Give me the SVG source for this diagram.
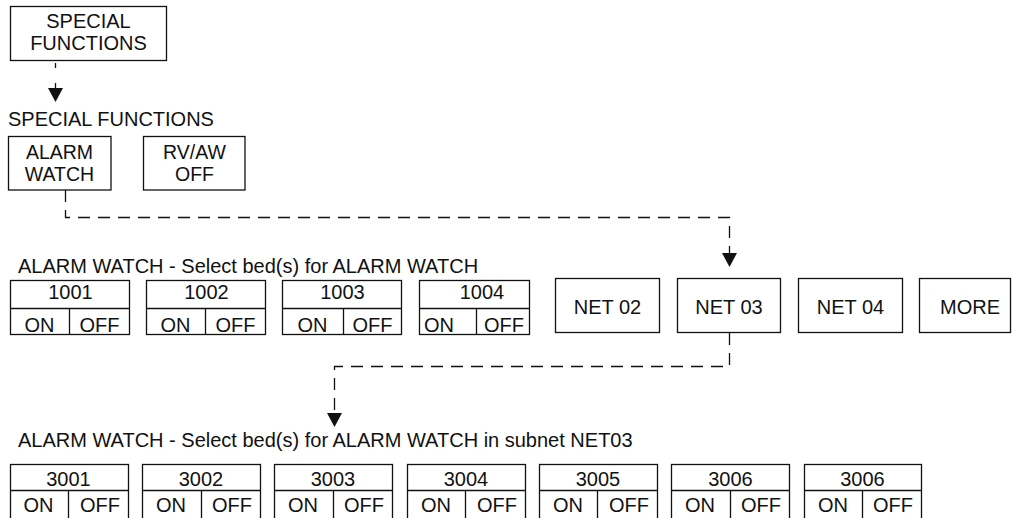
<svg xmlns="http://www.w3.org/2000/svg" width="1012" height="518" viewBox="0 0 1012 518">
  <style>
    text { font-family: "Liberation Sans", Arial, Helvetica, sans-serif; font-size: 20px; fill: #111; text-anchor: middle; }
    text.h { text-anchor: start; }
    text.two { font-size: 19.5px; }
    .box { fill: none; stroke: #111; stroke-width: 1.3; }
    .sep { stroke: #111; stroke-width: 1.3; }
    .con { fill: none; stroke: #111; stroke-width: 1.3; stroke-dasharray: 12 8; }
    .con.short { stroke-dasharray: 5 15; }
  </style>
  <defs>
    <marker id="arrow" viewBox="0 0 14 15" refX="0" refY="7.5" markerWidth="14" markerHeight="15" markerUnits="userSpaceOnUse" orient="auto">
      <path d="M0,0 L14,7.5 L0,15 Z" fill="#111"/>
    </marker>
  </defs>
  <rect width="1012" height="518" fill="#fff"/>

  <!-- connectors -->
  <g id="connectors">
    <path class="con short" d="M55.5 63 V88" marker-end="url(#arrow)"/>
    <path class="con" d="M65.5 190 V217.5 H729.5 V253" marker-end="url(#arrow)"/>
    <path class="con" d="M729.5 333 V366.5 H334.5 V413" marker-end="url(#arrow)"/>
  </g>

  <!-- top level menu key -->
  <g id="special-functions-key">
    <rect class="box" x="10.5" y="6.5" width="156" height="54"/>
    <text x="88.5" y="28">SPECIAL</text>
    <text x="88.5" y="50">FUNCTIONS</text>
  </g>

  <!-- special functions screen -->
  <g id="special-functions-title">
    <text class="h" x="8" y="126">SPECIAL FUNCTIONS</text>
  </g>
  <g id="alarm-watch-key">
    <rect class="box" x="8.5" y="136.5" width="102.5" height="53.5"/>
    <text class="two" x="59.5" y="158.5">ALARM</text>
    <text class="two" x="59.5" y="180.5">WATCH</text>
  </g>
  <g id="rvaw-off-key">
    <rect class="box" x="143.5" y="136.5" width="101.5" height="53.5"/>
    <text class="two" x="194.5" y="158.5">RV/AW</text>
    <text class="two" x="194.5" y="180.5">OFF</text>
  </g>

  <!-- bed selection, network 01 -->
  <g id="net01-title">
    <text class="h" x="18" y="272.5">ALARM WATCH - Select bed(s) for ALARM WATCH</text>
  </g>
  <g id="bed-1001">
    <rect class="box" x="10.5" y="280.5" width="119" height="54"/>
    <line class="sep" x1="10.5" y1="308.5" x2="129.5" y2="308.5"/>
    <line class="sep" x1="69.5" y1="308.5" x2="69.5" y2="334.5"/>
    <text x="70.5" y="299">1001</text>
    <text x="39.5" y="331.5">ON</text>
    <text x="99.5" y="331.5">OFF</text>
  </g>
  <g id="bed-1002">
    <rect class="box" x="146.5" y="280.5" width="119" height="54"/>
    <line class="sep" x1="146.5" y1="308.5" x2="265.5" y2="308.5"/>
    <line class="sep" x1="205.5" y1="308.5" x2="205.5" y2="334.5"/>
    <text x="206.5" y="299">1002</text>
    <text x="175.5" y="331.5">ON</text>
    <text x="235.5" y="331.5">OFF</text>
  </g>
  <g id="bed-1003">
    <rect class="box" x="282.5" y="280.5" width="119" height="54"/>
    <line class="sep" x1="282.5" y1="308.5" x2="401.5" y2="308.5"/>
    <line class="sep" x1="343.5" y1="308.5" x2="343.5" y2="334.5"/>
    <text x="342.5" y="299">1003</text>
    <text x="312.5" y="331.5">ON</text>
    <text x="372.5" y="331.5">OFF</text>
  </g>
  <g id="bed-1004">
    <rect class="box" x="419.5" y="280.5" width="110" height="54"/>
    <line class="sep" x1="419.5" y1="308.5" x2="529.5" y2="308.5"/>
    <line class="sep" x1="476.5" y1="308.5" x2="476.5" y2="334.5"/>
    <text x="482" y="299">1004</text>
    <text x="439" y="331.5">ON</text>
    <text x="504" y="331.5">OFF</text>
  </g>
  <g id="net02-key">
    <rect class="box" x="555.5" y="278.5" width="104" height="54"/>
    <text x="607.5" y="314">NET 02</text>
  </g>
  <g id="net03-key">
    <rect class="box" x="677.5" y="278.5" width="103" height="54"/>
    <text x="729" y="314">NET 03</text>
  </g>
  <g id="net04-key">
    <rect class="box" x="798.5" y="278.5" width="104" height="54"/>
    <text x="850.5" y="314">NET 04</text>
  </g>
  <g id="more-key">
    <rect class="box" x="919.5" y="278.5" width="91" height="54"/>
    <text x="970" y="314">MORE</text>
  </g>

  <!-- bed selection, subnet NET03 -->
  <g id="net03-title">
    <text class="h" x="18" y="446.5">ALARM WATCH - Select bed(s) for ALARM WATCH in subnet NET03</text>
  </g>
  <g id="bed-3001">
    <rect class="box" x="10.5" y="464.5" width="118" height="70"/>
    <line class="sep" x1="10.5" y1="490.5" x2="128.5" y2="490.5"/>
    <line class="sep" x1="68.5" y1="490.5" x2="68.5" y2="534.5"/>
    <text x="68.5" y="486">3001</text>
    <text x="38.5" y="511.5">ON</text>
    <text x="100" y="511.5">OFF</text>
  </g>
  <g id="bed-3002">
    <rect class="box" x="142.5" y="464.5" width="118" height="70"/>
    <line class="sep" x1="142.5" y1="490.5" x2="260.5" y2="490.5"/>
    <line class="sep" x1="201.5" y1="490.5" x2="201.5" y2="534.5"/>
    <text x="201" y="486">3002</text>
    <text x="171" y="511.5">ON</text>
    <text x="232" y="511.5">OFF</text>
  </g>
  <g id="bed-3003">
    <rect class="box" x="274.5" y="464.5" width="118" height="70"/>
    <line class="sep" x1="274.5" y1="490.5" x2="392.5" y2="490.5"/>
    <line class="sep" x1="333.5" y1="490.5" x2="333.5" y2="534.5"/>
    <text x="333" y="486">3003</text>
    <text x="303" y="511.5">ON</text>
    <text x="364" y="511.5">OFF</text>
  </g>
  <g id="bed-3004">
    <rect class="box" x="407.5" y="464.5" width="118" height="70"/>
    <line class="sep" x1="407.5" y1="490.5" x2="525.5" y2="490.5"/>
    <line class="sep" x1="465.5" y1="490.5" x2="465.5" y2="534.5"/>
    <text x="466" y="486">3004</text>
    <text x="436" y="511.5">ON</text>
    <text x="497" y="511.5">OFF</text>
  </g>
  <g id="bed-3005">
    <rect class="box" x="539.5" y="464.5" width="118" height="70"/>
    <line class="sep" x1="539.5" y1="490.5" x2="657.5" y2="490.5"/>
    <line class="sep" x1="597.5" y1="490.5" x2="597.5" y2="534.5"/>
    <text x="598" y="486">3005</text>
    <text x="568" y="511.5">ON</text>
    <text x="629" y="511.5">OFF</text>
  </g>
  <g id="bed-3006">
    <rect class="box" x="671.5" y="464.5" width="118" height="70"/>
    <line class="sep" x1="671.5" y1="490.5" x2="789.5" y2="490.5"/>
    <line class="sep" x1="730.5" y1="490.5" x2="730.5" y2="534.5"/>
    <text x="730.5" y="486">3006</text>
    <text x="700" y="511.5">ON</text>
    <text x="761" y="511.5">OFF</text>
  </g>
  <g id="bed-3006-b">
    <rect class="box" x="804.5" y="464.5" width="117" height="70"/>
    <line class="sep" x1="804.5" y1="490.5" x2="921.5" y2="490.5"/>
    <line class="sep" x1="862.5" y1="490.5" x2="862.5" y2="534.5"/>
    <text x="862.5" y="486">3006</text>
    <text x="833" y="511.5">ON</text>
    <text x="893" y="511.5">OFF</text>
  </g>
</svg>
